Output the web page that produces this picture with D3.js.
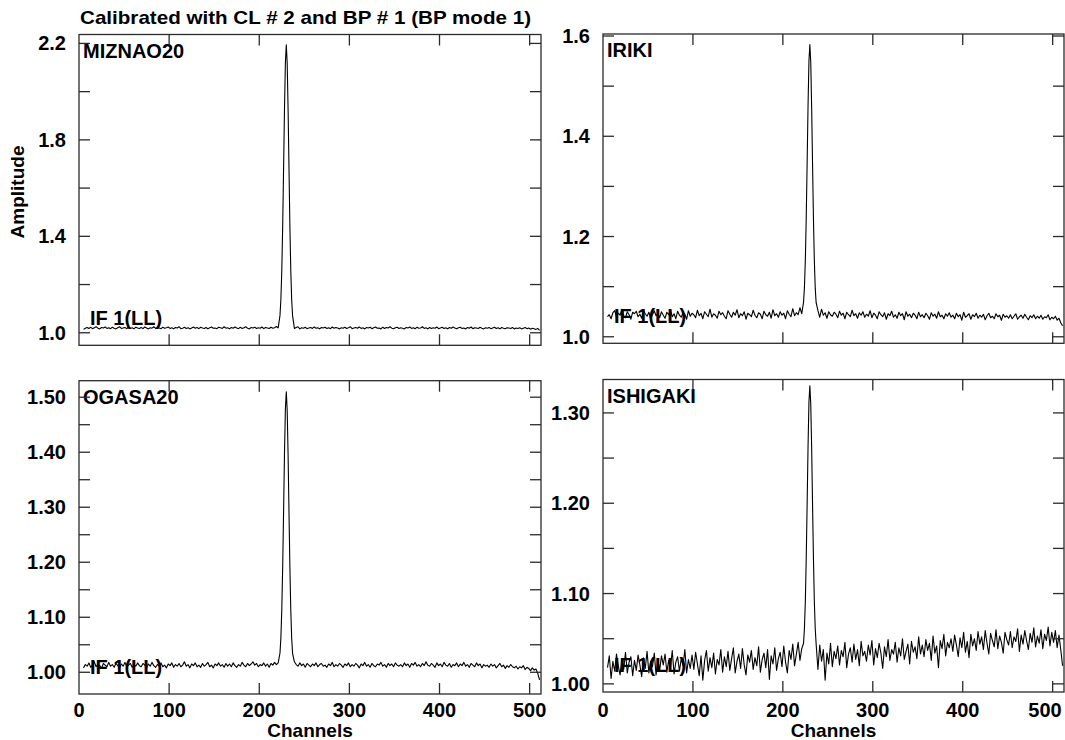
<!DOCTYPE html>
<html><head><meta charset="utf-8">
<script src="https://cdn.jsdelivr.net/npm/d3@7"></script>
<style>
body{margin:0;background:#fff}
svg{display:block}
text{font-family:"Liberation Sans",Arial,Helvetica,sans-serif;font-weight:bold;fill:#000}
</style>
</head><body>
<svg id="chart" width="1065" height="740"></svg>
<script>
// ---------------- DATA ----------------
const titleText = "Calibrated with CL # 2 and BP # 1 (BP mode 1)";
const stations = ["MIZNAO20", "IRIKI", "OGASA20", "ISHIGAKI"];
const ifLabel = "IF 1(LL)";
const xTickValues = [0, 100, 200, 300, 400, 500];
const xDomain = [0, 512.6];

// y ticks per panel (all ticks) and labelled ticks
const yTicks1 = [1.0, 1.2, 1.4, 1.6, 1.8, 2.0, 2.2];
const yLabels1 = [1.0, 1.4, 1.8, 2.2];
const yTicks2 = [1.0, 1.1, 1.2, 1.3, 1.4, 1.5, 1.6];
const yLabels2 = [1.0, 1.2, 1.4, 1.6];
const yTicks3 = [1.00, 1.05, 1.10, 1.15, 1.20, 1.25, 1.30, 1.35, 1.40, 1.45, 1.50];
const yLabels3 = [1.00, 1.10, 1.20, 1.30, 1.40, 1.50];
const yTicks4 = [1.00, 1.05, 1.10, 1.15, 1.20, 1.25, 1.30];
const yLabels4 = [1.00, 1.10, 1.20, 1.30];
const yDomain1 = [0.948, 2.237];
const yDomain2 = [0.987, 1.604];
const yDomain3 = [0.9605, 1.530];
const yDomain4 = [0.991, 1.337];

// channels sampled for the baseline (every other channel) and channels across the line
const baseChannels = [5,7,9,11,13,15,17,19,21,23,25,27,29,31,33,35,37,39,41,43,45,47,49,51,53,55,57,59,61,63,65,67,69,71,73,75,77,79,81,83,85,87,89,91,93,95,97,99,101,103,105,107,109,111,113,115,117,119,121,123,125,127,129,131,133,135,137,139,141,143,145,147,149,151,153,155,157,159,161,163,165,167,169,171,173,175,177,179,181,183,185,187,189,191,193,195,197,199,201,203,205,207,209,211,213,215,217,219,221,223,225,227,229,231,233,235,237,239,241,243,245,247,249,251,253,255,257,259,261,263,265,267,269,271,273,275,277,279,281,283,285,287,289,291,293,295,297,299,301,303,305,307,309,311,313,315,317,319,321,323,325,327,329,331,333,335,337,339,341,343,345,347,349,351,353,355,357,359,361,363,365,367,369,371,373,375,377,379,381,383,385,387,389,391,393,395,397,399,401,403,405,407,409,411,413,415,417,419,421,423,425,427,429,431,433,435,437,439,441,443,445,447,449,451,453,455,457,459,461,463,465,467,469,471,473,475,477,479,481,483,485,487,489,491,493,495,497,499,501,503,505,507,509,511];
const peakChannels = [223,224,225,226,227,228,229,230,231,232,233,234,235,236,237];

const miznaoBase = [
1.014,1.019,1.022,1.018,1.023,1.017,1.021,1.025,1.019,1.016,1.022,1.020,1.024,1.018,1.021,1.017,
1.023,1.019,1.016,1.021,1.025,1.018,1.020,1.022,1.017,1.024,1.019,1.021,1.016,1.023,1.020,1.018,
1.022,1.017,1.024,1.020,1.016,1.021,1.019,1.025,1.018,1.022,1.020,1.017,1.023,1.019,1.021,1.024,
1.018,1.021,1.016,1.022,1.020,1.025,1.017,1.019,1.023,1.018,1.021,1.016,1.020,1.024,1.019,1.022,
1.017,1.023,1.020,1.018,1.022,1.016,1.021,1.024,1.019,1.020,1.017,1.023,1.021,1.018,1.025,1.019,
1.021,1.016,1.022,1.019,1.024,1.020,1.017,1.023,1.018,1.021,1.025,1.019,1.016,1.022,1.020,1.023,
1.018,1.021,1.019,1.024,1.017,1.022,1.020,1.018,1.023,1.019,1.021,1.026,1.020,1.018,1.022,1.025,
1.020,1.017,1.021,1.019,1.023,1.018,1.022,1.025,1.016,1.021,1.019,1.023,1.017,1.020,1.022,1.018,
1.024,1.019,1.021,1.016,1.022,1.020,1.023,1.018,1.021,1.017,1.024,1.019,1.022,1.020,1.016,1.021,
1.019,1.023,1.018,1.021,1.025,1.017,1.020,1.022,1.019,1.024,1.018,1.021,1.016,1.022,1.020,1.023,
1.017,1.021,1.024,1.019,1.020,1.016,1.023,1.018,1.022,1.020,1.025,1.019,1.017,1.021,1.023,1.018,
1.021,1.019,1.016,1.022,1.020,1.024,1.018,1.021,1.017,1.023,1.019,1.020,1.025,1.018,1.021,1.016,
1.022,1.018,1.021,1.019,1.024,1.017,1.020,1.023,1.018,1.021,1.016,1.022,1.019,1.024,1.020,1.017,
1.021,1.023,1.018,1.020,1.016,1.022,1.019,1.024,1.017,1.021,1.020,1.018,1.023,1.019,1.016,1.021,
1.019,1.022,1.017,1.020,1.023,1.018,1.021,1.016,1.022,1.019,1.017,1.021,1.020,1.018,1.022,1.016,
1.020,1.018,1.021,1.016,1.019,1.022,1.017,1.020,1.015,1.019,1.017,1.014,1.018,1.010];
const miznaoPeak = [1.072,1.139,1.258,1.444,1.682,1.930,2.121,2.194,2.118,1.925,1.680,1.440,1.255,1.135,1.070];

const irikiBase = [
1.040,1.044,1.036,1.048,1.052,1.039,1.047,1.043,1.055,1.041,1.038,1.050,1.044,1.035,1.049,1.046,
1.051,1.040,1.045,1.037,1.053,1.046,1.041,1.049,1.036,1.044,1.052,1.042,1.047,1.038,1.050,1.043,
1.037,1.049,1.044,1.054,1.040,1.046,1.036,1.051,1.043,1.039,1.048,1.045,1.035,1.052,1.041,1.047,
1.044,1.038,1.053,1.042,1.047,1.036,1.050,1.045,1.040,1.055,1.039,1.046,1.043,1.037,1.051,1.044,
1.048,1.041,1.036,1.052,1.045,1.039,1.049,1.043,1.054,1.038,1.046,1.042,1.050,1.035,1.047,1.044,
1.040,1.053,1.043,1.038,1.048,1.045,1.036,1.051,1.044,1.041,1.049,1.037,1.054,1.042,1.046,1.039,
1.050,1.043,1.047,1.036,1.052,1.045,1.040,1.056,1.042,1.048,1.044,1.058,1.046,1.050,1.047,1.049,
1.047,1.046,1.048,1.045,1.044,1.052,1.039,1.055,1.043,1.048,1.037,1.050,1.044,1.041,1.049,1.045,
1.038,1.051,1.043,1.047,1.036,1.049,1.044,1.040,1.053,1.042,1.046,1.037,1.048,1.043,1.050,1.039,
1.045,1.041,1.052,1.038,1.047,1.043,1.036,1.050,1.044,1.040,1.048,1.035,1.046,1.042,1.051,1.039,
1.044,1.037,1.049,1.042,1.046,1.034,1.050,1.041,1.045,1.038,1.047,1.043,1.036,1.049,1.040,1.044,
1.038,1.047,1.042,1.035,1.048,1.041,1.045,1.037,1.050,1.040,1.043,1.036,1.046,1.041,1.048,1.039,
1.043,1.036,1.047,1.040,1.044,1.033,1.049,1.039,1.042,1.046,1.035,1.044,1.040,1.047,1.037,1.043,
1.039,1.045,1.034,1.042,1.047,1.038,1.041,1.036,1.046,1.040,1.043,1.033,1.045,1.039,1.042,1.037,
1.044,1.036,1.041,1.046,1.035,1.040,1.043,1.037,1.045,1.039,1.034,1.042,1.038,1.044,1.036,1.041,
1.037,1.043,1.035,1.040,1.038,1.044,1.034,1.039,1.036,1.041,1.033,1.037,1.028,1.022];
const irikiPeak = [1.069,1.099,1.154,1.239,1.348,1.462,1.550,1.583,1.548,1.458,1.345,1.236,1.152,1.097,1.068];

const ogasaBase = [
1.008,1.014,1.011,1.017,1.009,1.013,1.019,1.010,1.015,1.012,1.007,1.016,1.013,1.010,1.018,1.011,
1.014,1.009,1.016,1.012,1.008,1.015,1.011,1.018,1.010,1.013,1.016,1.009,1.014,1.011,1.017,1.012,
1.010,1.016,1.013,1.008,1.015,1.011,1.018,1.012,1.009,1.014,1.011,1.017,1.010,1.013,1.008,1.015,
1.012,1.017,1.009,1.014,1.011,1.016,1.010,1.013,1.019,1.011,1.014,1.008,1.015,1.012,1.017,1.010,
1.013,1.009,1.016,1.011,1.014,1.018,1.010,1.013,1.008,1.015,1.012,1.017,1.011,1.014,1.009,1.016,
1.011,1.015,1.010,1.017,1.012,1.009,1.014,1.011,1.018,1.013,1.010,1.016,1.012,1.015,1.019,1.013,
1.016,1.010,1.014,1.012,1.017,1.011,1.015,1.009,1.016,1.013,1.018,1.014,1.017,1.015,1.020,1.024,
1.030,1.025,1.020,1.016,1.010,1.019,1.014,1.011,1.017,1.012,1.015,1.009,1.016,1.013,1.010,1.015,
1.012,1.017,1.010,1.014,1.016,1.011,1.013,1.009,1.015,1.012,1.018,1.010,1.014,1.011,1.016,1.013,
1.009,1.015,1.012,1.017,1.010,1.014,1.011,1.016,1.013,1.008,1.015,1.012,1.018,1.011,1.014,1.009,
1.016,1.012,1.010,1.015,1.013,1.018,1.011,1.014,1.009,1.016,1.012,1.015,1.010,1.017,1.013,1.011,
1.014,1.010,1.017,1.012,1.015,1.009,1.016,1.013,1.018,1.011,1.014,1.010,1.016,1.012,1.019,1.013,
1.011,1.016,1.013,1.009,1.017,1.012,1.015,1.010,1.018,1.013,1.011,1.016,1.009,1.014,1.012,1.017,
1.010,1.015,1.012,1.018,1.011,1.014,1.009,1.016,1.013,1.010,1.017,1.012,1.015,1.008,1.014,1.011,
1.013,1.009,1.015,1.011,1.014,1.008,1.012,1.016,1.010,1.013,1.007,1.012,1.009,1.014,1.010,1.008,
1.011,1.006,1.010,1.008,1.012,1.005,1.009,1.007,1.003,1.008,1.004,1.006,0.998,0.986];
const ogasaPeak = [1.035,1.063,1.114,1.192,1.293,1.398,1.479,1.510,1.476,1.395,1.290,1.190,1.112,1.061,1.034];

const ishigakiBase = [
1.018,1.031,1.006,1.025,1.014,1.033,1.020,1.010,1.028,1.016,1.035,1.012,1.024,1.030,1.009,1.026,
1.015,1.032,1.021,1.008,1.029,1.017,1.036,1.012,1.025,1.019,1.034,1.010,1.027,1.015,1.031,1.021,
1.033,1.013,1.026,1.018,1.037,1.011,1.024,1.030,1.014,1.028,1.020,1.038,1.012,1.027,1.017,1.032,
1.016,1.035,1.022,1.009,1.031,1.004,1.026,1.037,1.014,1.029,1.018,1.034,1.011,1.027,1.021,1.038,
1.013,1.030,1.019,1.036,1.015,1.028,1.040,1.012,1.025,1.033,1.017,1.039,1.021,1.010,1.032,1.024,
1.037,1.016,1.029,1.020,1.041,1.013,1.027,1.034,1.018,1.038,1.005,1.031,1.022,1.040,1.015,1.028,
1.035,1.019,1.042,1.024,1.012,1.037,1.027,1.044,1.020,1.033,1.046,1.026,1.039,1.048,1.040,1.044,
1.040,1.038,1.036,1.034,1.032,1.016,1.043,1.025,1.038,1.004,1.034,1.022,1.045,1.019,1.036,1.028,
1.042,1.021,1.037,1.030,1.046,1.018,1.033,1.040,1.024,1.044,1.027,1.038,1.020,1.047,1.031,1.036,
1.025,1.043,1.032,1.048,1.021,1.039,1.029,1.045,1.034,1.017,1.041,1.030,1.049,1.026,1.038,1.033,
1.046,1.024,1.040,1.031,1.050,1.027,1.036,1.044,1.022,1.047,1.035,1.041,1.028,1.052,1.033,1.043,
1.030,1.049,1.037,1.045,1.026,1.053,1.034,1.042,1.018,1.048,1.039,1.055,1.031,1.046,1.040,1.050,
1.036,1.054,1.043,1.030,1.051,1.040,1.057,1.035,1.047,1.029,1.055,1.042,1.050,1.037,1.058,1.044,
1.052,1.038,1.059,1.045,1.033,1.056,1.048,1.041,1.060,1.039,1.053,1.046,1.034,1.057,1.049,1.043,
1.058,1.040,1.052,1.047,1.061,1.036,1.054,1.044,1.059,1.048,1.038,1.056,1.046,1.062,1.041,1.053,
1.045,1.060,1.039,1.055,1.048,1.063,1.042,1.057,1.046,1.059,1.040,1.054,1.038,1.020];
const ishigakiPeak = [1.045,1.062,1.092,1.140,1.200,1.263,1.312,1.330,1.310,1.262,1.199,1.139,1.091,1.061,1.044];

// ---------------- LAYOUT ----------------
const panels = [
  {name: stations[0], base: miznaoBase, peak: miznaoPeak, yDomain: yDomain1, yTicks: yTicks1, yLabels: yLabels1, fmt: ".1f",
   x0: 79, x1: 541, y0: 34.5, y1: 345.3, xLabels: false},
  {name: stations[1], base: irikiBase, peak: irikiPeak, yDomain: yDomain2, yTicks: yTicks2, yLabels: yLabels2, fmt: ".1f",
   x0: 603, x1: 1064, y0: 34, y1: 343.3, xLabels: false},
  {name: stations[2], base: ogasaBase, peak: ogasaPeak, yDomain: yDomain3, yTicks: yTicks3, yLabels: yLabels3, fmt: ".2f",
   x0: 79, x1: 541, y0: 380.7, y1: 694, xLabels: true},
  {name: stations[3], base: ishigakiBase, peak: ishigakiPeak, yDomain: yDomain4, yTicks: yTicks4, yLabels: yLabels4, fmt: ".2f",
   x0: 603, x1: 1064, y0: 379.5, y1: 692, xLabels: true}
];

const svg = d3.select("#chart");
const FS = 20, TICK = 11, BOX = "#2a2a2a", W = 1065;

svg.append("text").attr("x", 80).attr("y", 24).attr("font-size", 19)
  .attr("textLength", 451).attr("lengthAdjust", "spacingAndGlyphs").text(titleText);
svg.append("text").attr("transform", "translate(24,192) rotate(-90)")
  .attr("text-anchor", "middle").attr("font-size", 19).text("Amplitude");

panels.forEach((p, i) => {
  const x = d3.scaleLinear().domain(xDomain).range([p.x0, p.x1]);
  const y = d3.scaleLinear().domain(p.yDomain).range([p.y1, p.y0]);
  const g = svg.append("g");

  const lo = d3.min(peakChannels), hi = d3.max(peakChannels);
  const pts = baseChannels.map((c, k) => [c, p.base[k]])
    .filter(d => d[0] < lo || d[0] > hi)
    .concat(peakChannels.map((c, k) => [c, p.peak[k]]))
    .sort((a, b) => a[0] - b[0]);

  // labels (drawn under the trace, as in the original)
  g.append("text").attr("x", p.x0 + 4).attr("y", p.y0 + 23).attr("font-size", FS).text(p.name);
  g.append("text").attr("x", p.x0 + 11).attr("y", p.y1 - 20).attr("font-size", FS).text(ifLabel);

  const clipId = "clip" + i;
  svg.append("clipPath").attr("id", clipId).append("rect")
    .attr("x", p.x0).attr("y", p.y0).attr("width", p.x1 - p.x0).attr("height", p.y1 - p.y0);

  g.append("path").datum(pts)
    .attr("clip-path", `url(#${clipId})`)
    .attr("fill", "none").attr("stroke", "#000").attr("stroke-width", 1.1)
    .attr("stroke-linejoin", "round")
    .attr("d", d3.line().x(d => x(d[0])).y(d => y(d[1])));

  // frame
  g.append("rect").attr("x", p.x0).attr("y", p.y0)
    .attr("width", p.x1 - p.x0).attr("height", p.y1 - p.y0)
    .attr("fill", "none").attr("stroke", BOX).attr("stroke-width", 1.3);

  // x ticks (inside, top and bottom)
  const xt = xTickValues.filter(v => v > 0);
  g.selectAll(".xtb").data(xt).join("line")
    .attr("x1", d => x(d)).attr("x2", d => x(d))
    .attr("y1", p.y1).attr("y2", p.y1 - TICK).attr("stroke", BOX).attr("stroke-width", 1.3);
  g.selectAll(".xtt").data(xt).join("line")
    .attr("x1", d => x(d)).attr("x2", d => x(d))
    .attr("y1", p.y0).attr("y2", p.y0 + TICK).attr("stroke", BOX).attr("stroke-width", 1.3);
  // y ticks (inside, left and right)
  g.selectAll(".ytl").data(p.yTicks).join("line")
    .attr("x1", p.x0).attr("x2", p.x0 + TICK)
    .attr("y1", d => y(d)).attr("y2", d => y(d)).attr("stroke", BOX).attr("stroke-width", 1.3);
  g.selectAll(".ytr").data(p.yTicks).join("line")
    .attr("x1", p.x1).attr("x2", p.x1 - TICK)
    .attr("y1", d => y(d)).attr("y2", d => y(d)).attr("stroke", BOX).attr("stroke-width", 1.3);

  const f = d3.format(p.fmt);
  g.selectAll(".yl").data(p.yLabels).join("text")
    .attr("x", p.x0 - 13).attr("y", d => y(d) + 7)
    .attr("text-anchor", "end").attr("font-size", FS).text(d => f(d));

  if (p.xLabels) {
    g.selectAll(".xl").data(xTickValues).join("text")
      .attr("x", d => Math.min(x(d), W - 20)).attr("y", 717)
      .attr("text-anchor", "middle").attr("font-size", FS).text(d => d);
    g.append("text").attr("x", (p.x0 + p.x1) / 2).attr("y", 737)
      .attr("text-anchor", "middle").attr("font-size", 19).text("Channels");
  }
});
</script>
</body></html>
